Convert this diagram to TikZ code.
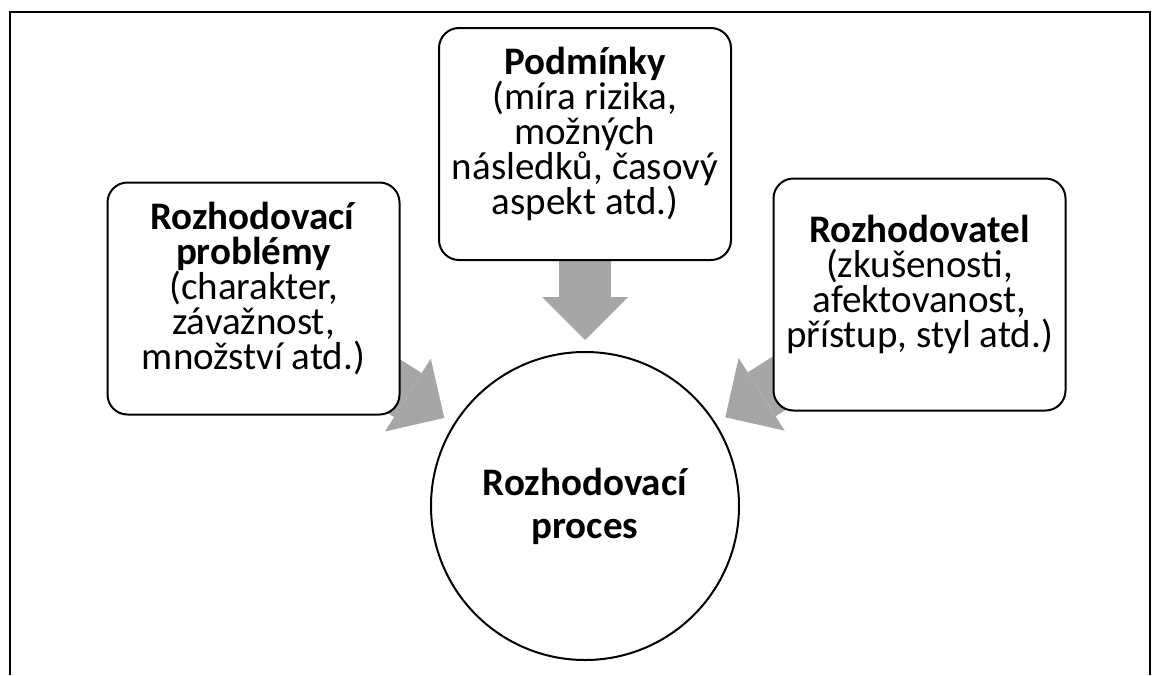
\documentclass[tikz,border=0pt]{standalone}
\usepackage{fontspec}
\setmainfont{Carlito}
\usepackage{tikz}
\usetikzlibrary{arrows.meta}
\usetikzlibrary{positioning}
\usetikzlibrary{backgrounds}
\definecolor{agrey}{RGB}{166,166,166}
\newcommand{\boxfont}{\fontsize{19.5}{17.5}\selectfont\lineskiplimit-20pt\relax}
\newcommand{\procfont}{\bfseries\fontsize{19.5}{21.5}\selectfont\lineskiplimit-20pt\relax}

\begin{document}
\begin{tikzpicture}[x=0.5pt,y=-0.5pt,line width=1pt,node distance=45pt]
      \tikzstyle{box}=[draw=black,fill=white,rounded corners=10pt,align=center,inner sep=0pt,
                       minimum width=146pt,minimum height=116pt,text depth=13pt,font=\boxfont]
      \tikzstyle{proc}=[circle,draw=black,fill=white,align=center,inner sep=0pt,
                        minimum size=154pt,font=\procfont]
      \tikzstyle{bigarrow}=[draw=agrey,line width=26pt,
                            -{Triangle[width=43pt,length=21.5pt,line width=0pt]},
                            shorten >=5.5pt,shorten <=-20pt]

      \useasboundingbox (0,0) rectangle (1162,675);
      \draw (9.5,675) -- (9.5,11.5) -- (1150,11.5) -- (1150,675);

      \node[proc]			(P) at (585,506) {Rozhodovací\\proces};
      \node[box]			(C) [above = of P] {\textbf{Podmínky}\\(míra rizika,\\možných\\následků, časový\\aspekt atd.)};
      \node[box]			(L) at (253.5,298.5) {\textbf{Rozhodovací}\\\textbf{problémy}\\(charakter,\\závažnost,\\množství atd.)};
      \node[box]			(R) at (919.5,294.5) {\textbf{Rozhodovatel}\\(zkušenosti,\\afektovanost,\\přístup, styl atd.)};

      \begin{scope}[on background layer]
      \path
	(L) edge	[bigarrow]	(P)
	(C) edge	[bigarrow]	(P)
	(R) edge	[bigarrow]	(P);
      \end{scope}

\end{tikzpicture}
\end{document}
